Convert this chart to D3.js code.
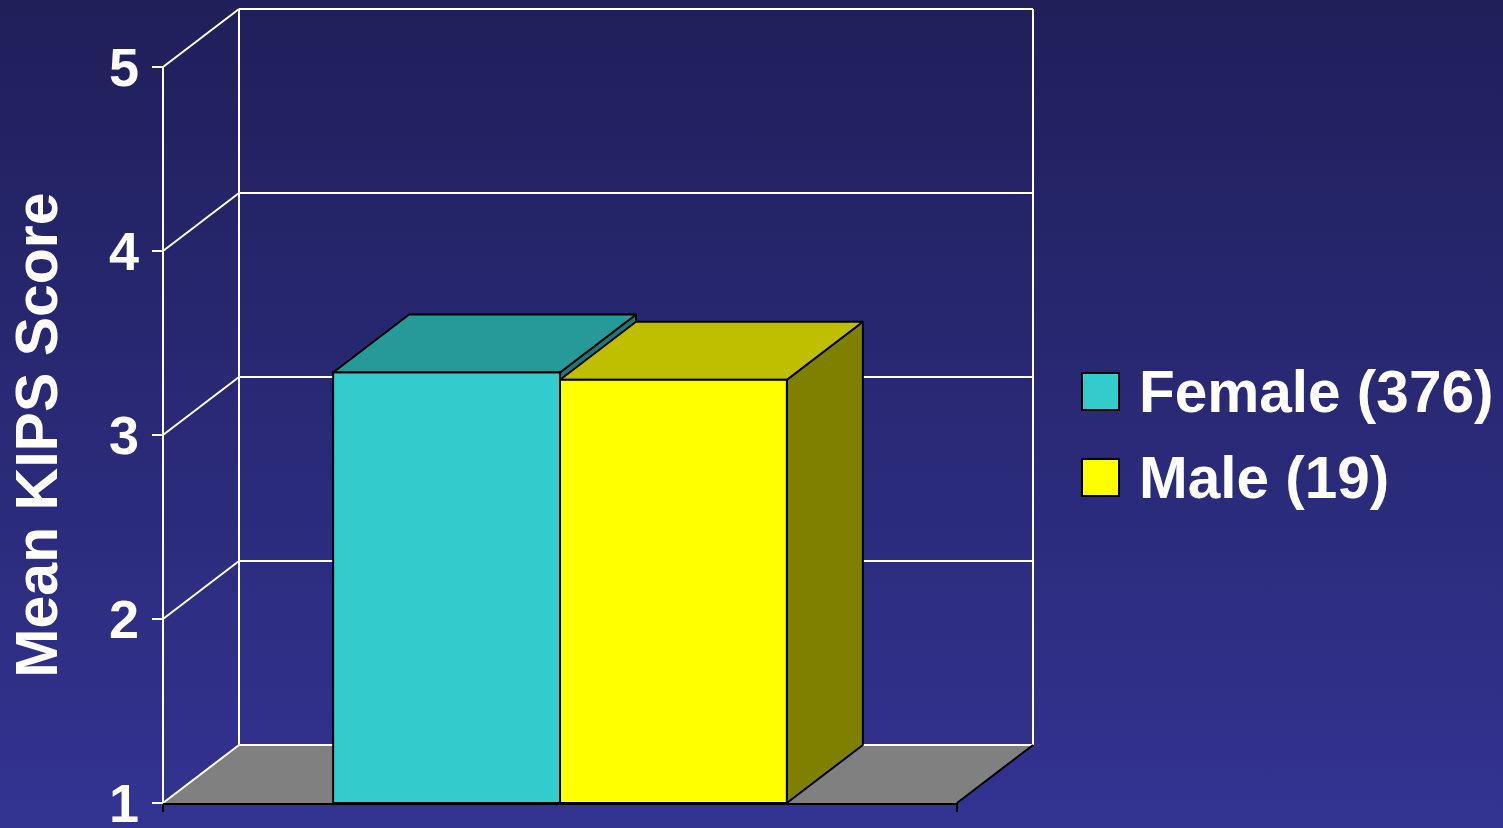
<!DOCTYPE html>
<html>
<head>
<meta charset="utf-8">
<script src="https://cdn.jsdelivr.net/npm/d3@7"></script>
<style>
html,body{margin:0;padding:0;overflow:hidden;background:#26266e;}
svg{display:block;}
text{font-family:"Liberation Sans",Arial,sans-serif;font-weight:bold;fill:#fff;}
</style>
</head>
<body>
<svg id="chart" width="1503" height="828"></svg>
<script>
// ---- data ----
const categories = ["All"];
const seriesNames = ["Female (376)", "Male (19)"];
const seriesValues = [3.34, 3.30];
const yTicks = [1, 2, 3, 4, 5];
const yTitle = "Mean KIPS Score";

// ---- styles ----
const frontColors = ["#33cccc", "#ffff00"];
const topColors = ["#269999", "#bfbf00"];
const sideColors = ["#1e7a7a", "#808000"];

const W = 1503, H = 828;
const svg = d3.select("#chart");

// background gradient
const defs = svg.append("defs");
const grad = defs.append("linearGradient").attr("id", "bg").attr("x1", 0).attr("y1", 0).attr("x2", 0).attr("y2", 1);
grad.append("stop").attr("offset", "0%").attr("stop-color", "#1f1f5a");
grad.append("stop").attr("offset", "100%").attr("stop-color", "#333392");
svg.append("rect").attr("width", W).attr("height", H).attr("fill", "url(#bg)");

// scales
const x0 = 163, x1 = 957;
const dx = 76, dy = -58;
const y = d3.scaleLinear().domain([1, 5]).range([803, 67]);
const xCat = d3.scaleBand().domain(categories).range([x0, x1]).paddingInner(0).paddingOuter(0.75 / 2);
const xSer = d3.scaleBand().domain(seriesNames).range([0, xCat.bandwidth()]).padding(0);

const g = svg.append("g");

// floor
const yb = y(1);
g.append("polygon")
  .attr("points", [[x0, yb], [x1, yb], [x1 + dx, yb + dy], [x0 + dx, yb + dy]].map(p => p.join(",")).join(" "))
  .attr("fill", "#808080");

// back wall gridlines
g.selectAll("line.grid").data(yTicks).join("line")
  .attr("class", "grid")
  .attr("x1", x0 + dx).attr("x2", x1 + dx)
  .attr("y1", d => y(d) + dy).attr("y2", d => y(d) + dy)
  .attr("stroke", "#fff").attr("stroke-width", 2);
// side wall diagonals
g.selectAll("line.diag").data(yTicks).join("line")
  .attr("class", "diag")
  .attr("x1", x0).attr("y1", d => y(d))
  .attr("x2", x0 + dx).attr("y2", d => y(d) + dy)
  .attr("stroke", "#fff").attr("stroke-width", 2);
// back wall verticals
[x0 + dx, x1 + dx].forEach(xx => {
  g.append("line").attr("x1", xx).attr("x2", xx)
    .attr("y1", y(5) + dy).attr("y2", y(1) + dy)
    .attr("stroke", "#fff").attr("stroke-width", 2);
});
// front value axis line
g.append("line").attr("x1", x0).attr("x2", x0).attr("y1", y(5)).attr("y2", y(1))
  .attr("stroke", "#fff").attr("stroke-width", 2);
// floor right edge (black)
g.append("line").attr("x1", x1).attr("y1", yb).attr("x2", x1 + dx).attr("y2", yb + dy)
  .attr("stroke", "#000").attr("stroke-width", 2);

// bars
const bars = g.selectAll("g.bar").data(seriesValues.map((v, i) => ({ v, i, name: seriesNames[i] }))).join("g").attr("class", "bar");
bars.each(function (d) {
  const sel = d3.select(this);
  const L = xCat(categories[0]) + xSer(d.name);
  const R = L + xSer.bandwidth();
  const T = y(d.v), B = y(1);
  const pts = a => a.map(p => p.join(",")).join(" ");
  sel.append("polygon").attr("points", pts([[R, T], [R + dx, T + dy], [R + dx, B + dy], [R, B]]))
    .attr("fill", sideColors[d.i]).attr("stroke", "#000").attr("stroke-width", 2).attr("stroke-linejoin", "round");
  sel.append("polygon").attr("points", pts([[L, T], [L + dx, T + dy], [R + dx, T + dy], [R, T]]))
    .attr("fill", topColors[d.i]).attr("stroke", "#000").attr("stroke-width", 2).attr("stroke-linejoin", "round");
  sel.append("rect").attr("x", L).attr("y", T).attr("width", R - L).attr("height", B - T)
    .attr("fill", frontColors[d.i]).attr("stroke", "#000").attr("stroke-width", 2);
});

// front floor edge
g.append("line").attr("x1", x0).attr("y1", yb + 1).attr("x2", x1).attr("y2", yb + 1)
  .attr("stroke", "#000").attr("stroke-width", 2);
// category ticks
[x0, x1].forEach(xx => {
  g.append("line").attr("x1", xx).attr("x2", xx).attr("y1", yb).attr("y2", yb + 9)
    .attr("stroke", "#000").attr("stroke-width", 2);
});

// y ticks & labels
g.selectAll("line.ytick").data(yTicks).join("line")
  .attr("class", "ytick")
  .attr("x1", x0 - 11).attr("x2", x0)
  .attr("y1", d => y(d)).attr("y2", d => y(d))
  .attr("stroke", "#fff").attr("stroke-width", 2);
g.selectAll("text.ylab").data(yTicks).join("text")
  .attr("class", "ylab")
  .attr("x", 139).attr("y", d => y(d) + 19)
  .attr("text-anchor", "end")
  .attr("font-size", 54)
  .text(d => d);

// y title
svg.append("text")
  .attr("transform", "translate(57,435) rotate(-90)")
  .attr("text-anchor", "middle")
  .attr("font-size", 59)
  .text(yTitle);

// legend
const leg = svg.append("g");
seriesNames.forEach((n, i) => {
  const ly = 373 + i * 86;
  leg.append("rect").attr("x", 1082).attr("y", ly).attr("width", 37).attr("height", 37)
    .attr("fill", frontColors[i]).attr("stroke", "#000").attr("stroke-width", 2);
  leg.append("text").attr("x", 1139).attr("y", ly + 39).attr("font-size", 58.5).text(n);
});
</script>
</body>
</html>
